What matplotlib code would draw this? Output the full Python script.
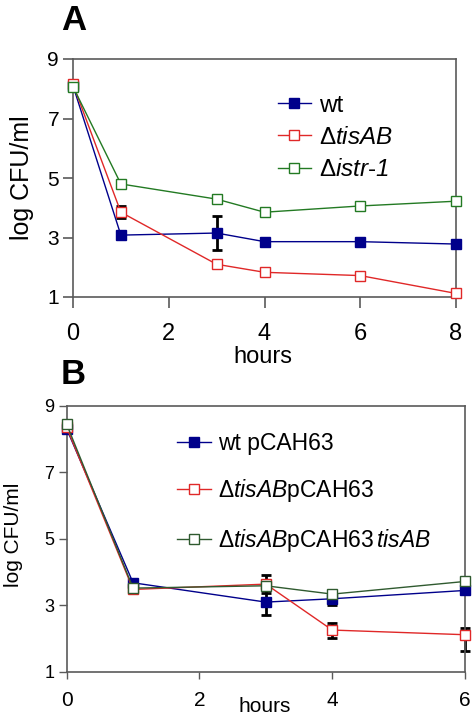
import numpy as np
import matplotlib
matplotlib.use('Agg')
import matplotlib.pyplot as plt

plt.rcParams['font.family'] = ['Liberation Sans', 'DejaVu Sans']
plt.rcParams['mathtext.fontset'] = 'custom'
plt.rcParams['mathtext.rm'] = 'Liberation Sans'
plt.rcParams['mathtext.it'] = 'Liberation Sans:italic'
plt.rcParams['mathtext.sf'] = 'Liberation Sans:italic'

# Panel A data
hours_a = [0, 1, 3, 4, 6, 8]
wt_a = [8.10, 3.08, 3.15, 2.86, 2.86, 2.78]
wt_a_err = [0, 0, 0.57, 0, 0, 0]
tisab_a = [8.15, 3.85, 2.10, 1.83, 1.72, 1.12]
tisab_a_err = [0, 0.21, 0, 0, 0, 0]
istr_a = [8.07, 4.80, 4.29, 3.85, 4.06, 4.22]

# Panel B data
hours_b = [0, 1, 3, 4, 6]
wt_b = [8.30, 3.68, 3.10, 3.20, 3.45]
wt_b_err = [0, 0, 0.38, 0.18, 0]
tisab_b = [8.35, 3.48, 3.64, 2.26, 2.12]
tisab_b_lo = [0, 0, 0.26, 0.24, 0.49]
tisab_b_hi = [0, 0, 0.26, 0.22, 0.21]
comp_b = [8.44, 3.52, 3.59, 3.34, 3.72]

labels_a = ['wt', r'$\Delta\mathsf{tisAB}$', r'$\Delta\mathsf{istr}$-$\mathsf{1}$']
labels_b = ['wt pCAH63', r'$\Delta\mathsf{tisAB}$pCAH63',
            r'$\Delta\mathsf{tisAB}$pCAH63$\,\mathsf{tisAB}$']

navy = '#00008B'
red = '#E02828'
green_a = '#237A23'
green_b = '#2F5A2F'
spine_c = '#5A5A5A'

fig = plt.figure(figsize=(4.76, 7.19), dpi=100)
ax_a = fig.add_axes([73 / 476, 1 - 297 / 719, 383 / 476, 238 / 719])
ax_b = fig.add_axes([66.7 / 476, 1 - 672 / 719, 398.3 / 476, 266.3 / 719])


def masked_err(x, y, lo, hi):
    idx = [i for i in range(len(x)) if lo[i] > 0 or hi[i] > 0]
    return ([x[i] for i in idx], [y[i] for i in idx],
            [[lo[i] for i in idx], [hi[i] for i in idx]])


def series(ax, x, y, color, filled, label, lw=1.0):
    ax.plot(x, y, color=color, lw=lw, marker='s', markersize=7.3,
            markerfacecolor=color if filled else 'white',
            markeredgecolor=color, markeredgewidth=1.0,
            label=label, zorder=3, clip_on=False)


def errs(ax, x, y, lo, hi):
    ex, ey, e = masked_err(x, y, lo, hi)
    if ex:
        ax.errorbar(ex, ey, yerr=e, fmt='none', ecolor='black', elinewidth=2,
                    capsize=3.6, capthick=2, zorder=2, clip_on=False)


# ---- Panel A ----
errs(ax_a, hours_a, wt_a, wt_a_err, wt_a_err)
errs(ax_a, hours_a, tisab_a, tisab_a_err, tisab_a_err)
series(ax_a, hours_a, wt_a, navy, True, labels_a[0])
series(ax_a, hours_a, tisab_a, red, False, labels_a[1])
series(ax_a, hours_a, istr_a, green_a, False, labels_a[2])
ax_a.set_xlim(0, 8)
ax_a.set_ylim(1, 9)
ax_a.set_xticks([0, 2, 4, 6, 8])
ax_a.set_yticks([1, 3, 5, 7, 9])
ax_a.tick_params(axis='x', direction='out', length=8, width=1.2, color=spine_c,
                 labelsize=17, pad=11)
ax_a.tick_params(axis='y', direction='out', length=7, width=1.2, color=spine_c,
                 labelsize=15, pad=3)
ax_a.legend(loc='upper left', bbox_to_anchor=(0.535, 0.85), frameon=False,
            fontsize=17.5, handlelength=1.35, handletextpad=0.33,
            labelspacing=0.42, borderpad=0, borderaxespad=0, numpoints=1)

# ---- Panel B ----
errs(ax_b, hours_b, wt_b, wt_b_err, wt_b_err)
errs(ax_b, hours_b, tisab_b, tisab_b_lo, tisab_b_hi)
series(ax_b, hours_b, wt_b, navy, True, labels_b[0])
series(ax_b, hours_b, tisab_b, red, False, labels_b[1])
series(ax_b, hours_b, comp_b, green_b, False, labels_b[2])
ax_b.set_xlim(0, 6)
ax_b.set_ylim(1, 9)
ax_b.set_xticks([0, 2, 4, 6])
ax_b.set_yticks([1, 3, 5, 7, 9])
ax_b.tick_params(axis='x', direction='out', length=5, width=1.0, color=spine_c,
                 labelsize=15, pad=9)
ax_b.tick_params(axis='y', direction='out', length=6, width=1.0, color=spine_c,
                 labelsize=13, pad=3)
ax_b.legend(loc='upper left', bbox_to_anchor=(0.278, 0.902), frameon=False,
            fontsize=16.5, handlelength=1.45, handletextpad=0.3,
            labelspacing=0.98, borderpad=0, borderaxespad=0, numpoints=1)

for ax in (ax_a, ax_b):
    for s in ax.spines.values():
        s.set_color(spine_c)
        s.set_linewidth(1.2)

# axis labels and panel letters
fig.text(263 / 476, 1 - 357 / 719, 'hours', ha='center', va='center', fontsize=17)
fig.text(22 / 476, 1 - 178 / 719, 'log CFU/ml', ha='center', va='center',
         rotation=90, fontsize=18)
fig.text(265 / 476, 1 - 707 / 719, 'hours', ha='center', va='center', fontsize=15)
fig.text(14 / 476, 1 - 535 / 719, 'log CFU/ml', ha='center', va='center',
         rotation=90, fontsize=15)
fig.text(61 / 476, 1 - 20 / 719, 'A', ha='left', va='center', fontsize=25,
         fontweight='bold')
fig.text(61 / 476, 1 - 375 / 719, 'B', ha='left', va='center', fontsize=25,
         fontweight='bold')

plt.savefig('out.png', dpi=100)
